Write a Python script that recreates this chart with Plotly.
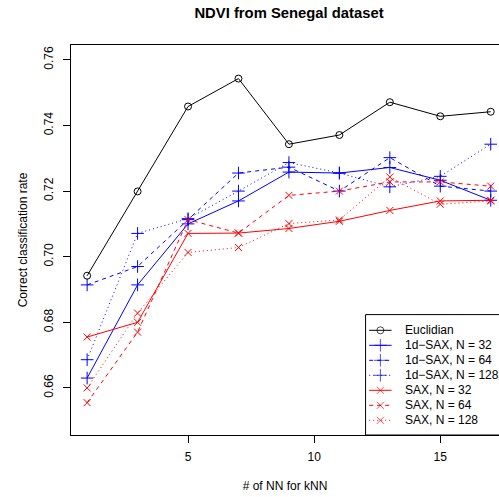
import plotly.graph_objects as go

# ---- data ----
k = [1, 3, 5, 7, 9, 11, 13, 15, 17]
euclid = [0.6942, 0.7199, 0.7458, 0.7543, 0.7343, 0.7371, 0.7471, 0.7428, 0.7442]
sax1d_32 = [0.6630, 0.6914, 0.7100, 0.7170, 0.7258, 0.7255, 0.7272, 0.7233, 0.7172]
sax1d_64 = [0.6914, 0.6970, 0.7113, 0.7255, 0.7273, 0.7200, 0.7302, 0.7215, 0.7200]
sax1d_128 = [0.6686, 0.7071, 0.7116, 0.7200, 0.7287, 0.7255, 0.7213, 0.7245, 0.7343]
sax_32 = [0.6755, 0.6800, 0.7071, 0.7072, 0.7086, 0.7108, 0.7141, 0.7170, 0.7172]
sax_64 = [0.6555, 0.6770, 0.7113, 0.7072, 0.7187, 0.7200, 0.7228, 0.7228, 0.7215]
sax_128 = [0.6600, 0.6828, 0.7013, 0.7028, 0.7101, 0.7112, 0.7243, 0.7160, 0.7170]

names = ["Euclidian", "1d\u2212SAX, N = 32", "1d\u2212SAX, N = 64", "1d\u2212SAX, N = 128",
         "SAX, N = 32", "SAX, N = 64", "SAX, N = 128"]
series = [euclid, sax1d_32, sax1d_64, sax1d_128, sax_32, sax_64, sax_128]

x_ticks = [5, 10, 15]
y_ticks = [0.66, 0.68, 0.70, 0.72, 0.74, 0.76]

# ---- styles ----
DASH = "4px,4px"
DOT = "1px,3px"
styles = [
    dict(color="black", dash="solid", symbol="circle-open", size=7),
    dict(color="#0000FF", dash="solid", symbol="cross-thin-open", size=9),
    dict(color="#0000FF", dash=DASH, symbol="cross-thin-open", size=9),
    dict(color="#0000FF", dash=DOT, symbol="cross-thin-open", size=9),
    dict(color="#FF0000", dash="solid", symbol="x-thin-open", size=7),
    dict(color="#FF0000", dash=DASH, symbol="x-thin-open", size=7),
    dict(color="#FF0000", dash=DOT, symbol="x-thin-open", size=7),
]

W, H = 499, 497
L, R_, T, B = 71.4, 499.0, 44.7, 434.7
FONT = "Liberation Sans, Arial, Helvetica, sans-serif"

fig = go.Figure()
for nm, ys, st in zip(names, series, styles):
    fig.add_trace(go.Scatter(
        x=k, y=ys, mode="lines+markers", name=nm, showlegend=False,
        line=dict(color=st["color"], width=1, dash=st["dash"]),
        marker=dict(symbol=st["symbol"], size=st["size"], color=st["color"],
                    line=dict(color=st["color"], width=1)),
    ))

# ---- manual legend (R style) ----
def px2fx(px):
    return (px - L) / (R_ - L)

def py2fy(py):
    return (B - py) / (B - T)

leg_left, leg_top = 365.7, 314.3
row_y = [330.0, 345.0, 360.0, 375.0, 390.0, 405.0, 420.0]
samp_x0, samp_x1 = 369.3, 391.7
text_x = 403.3

shapes = [dict(type="rect", xref="paper", yref="paper",
               x0=px2fx(leg_left), x1=px2fx(520), y0=py2fy(B), y1=py2fy(leg_top),
               line=dict(color="black", width=1), fillcolor="white", layer="below")]
annotations = []
for i, (nm, st) in enumerate(zip(names, styles)):
    yy = py2fy(row_y[i])
    fig.add_trace(go.Scatter(
        x=[px2fx(samp_x0), px2fx((samp_x0 + samp_x1) / 2), px2fx(samp_x1)],
        y=[yy, yy, yy], xaxis="x2", yaxis="y2", mode="lines+markers",
        showlegend=False, hoverinfo="skip",
        line=dict(color=st["color"], width=1, dash=st["dash"]),
        marker=dict(symbol=st["symbol"], size=[0, st["size"], 0], color=st["color"],
                    line=dict(color=st["color"], width=1)),
    ))
    annotations.append(dict(xref="paper", yref="paper", x=px2fx(text_x), y=yy,
                            text=nm, showarrow=False, xanchor="left", yanchor="middle",
                            font=dict(size=12, color="black", family=FONT)))

fig.update_layout(
    width=W, height=H,
    margin=dict(l=L, r=W - R_, t=T, b=H - B, pad=0),
    paper_bgcolor="white", plot_bgcolor="white",
    font=dict(family=FONT, size=12, color="black"),
    title=dict(text="<b>NDVI from Senegal dataset</b>", xref="container", yref="container",
               x=289.0 / W, y=1 - 13.0 / H, xanchor="center", yanchor="middle",
               font=dict(size=14.8, family=FONT, color="black")),
    xaxis=dict(range=[0.36, 0.36 + (R_ - L) / 25.2], tickvals=x_ticks, ticks="outside",
               ticklen=7, tickcolor="black", showline=True, linecolor="black", linewidth=1,
               mirror=True, showgrid=False, zeroline=False, automargin=False,
               ticklabelstandoff=4,
               tickfont=dict(size=12, family=FONT),
               title=dict(text="# of NN for kNN", standoff=18, font=dict(size=12, family=FONT))),
    yaxis=dict(range=[0.64564, 0.76454], tickvals=y_ticks, tickformat=".2f", ticks="outside",
               ticklen=7, tickcolor="black", showline=True, linecolor="black", linewidth=1,
               mirror=False, showgrid=False, zeroline=False, tickangle=-90, automargin=False,
               ticklabelstandoff=5,
               tickfont=dict(size=12, family=FONT),
               title=dict(text="Correct classification rate", standoff=12,
                          font=dict(size=12, family=FONT))),
    xaxis2=dict(overlaying="x", range=[0, 1], visible=False),
    yaxis2=dict(overlaying="y", range=[0, 1], visible=False),
    shapes=shapes, annotations=annotations,
)

fig.write_html("out.html", config={"displayModeBar": False},
               post_script="document.body.style.margin='0px';document.body.style.overflow='hidden';")
